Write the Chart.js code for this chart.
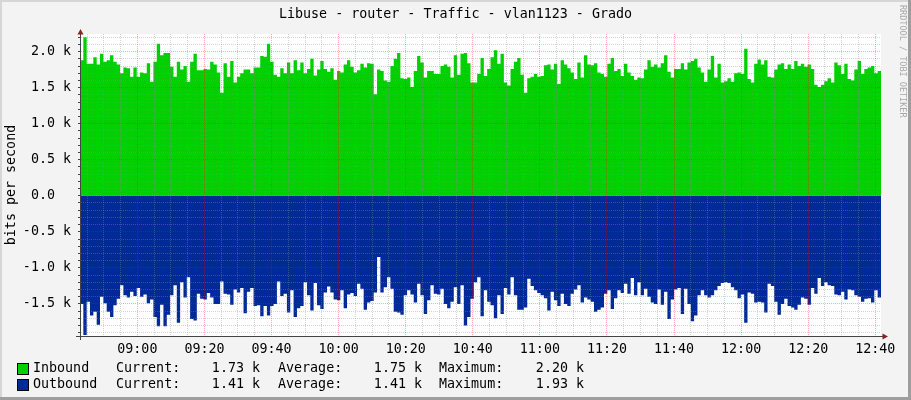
<!DOCTYPE html>
<html>
<head>
<meta charset="utf-8">
<script src="https://cdn.jsdelivr.net/npm/chart.js@4.4.1/dist/chart.umd.min.js"></script>
<style>
  html, body { margin: 0; padding: 0; background: #f3f3f3; }
  canvas { display: block; }
</style>
</head>
<body>
<canvas id="traffic" width="911" height="400"></canvas>
<script>
// Graph data (k bits/s, one sample per ~minute)
const TITLE = "Libuse - router - Traffic - vlan1123 - Grado";
const START_TIME = "08:42:54";
const END_TIME = "12:41:42";

const inbound = [
  1.88, 2.20, 1.83, 1.83, 1.92, 1.82, 1.97, 1.86, 1.88, 1.95, 1.86, 1.82, 1.70, 1.78, 1.77, 1.65, 1.78, 1.65, 1.71, 1.70,
  1.84, 1.58, 1.86, 2.11, 1.95, 1.98, 1.98, 1.79, 1.65, 1.86, 1.75, 1.80, 1.58, 1.86, 1.97, 1.74, 1.74, 1.76, 1.75, 1.86,
  1.82, 1.71, 1.43, 1.84, 1.65, 1.87, 1.57, 1.65, 1.70, 1.75, 1.75, 1.70, 1.78, 1.78, 1.94, 1.93, 2.11, 1.86, 1.68, 1.65,
  1.77, 1.70, 1.85, 1.70, 1.88, 1.74, 1.85, 1.70, 1.76, 1.90, 1.67, 1.75, 1.87, 1.76, 1.72, 1.77, 1.61, 1.73, 1.71, 1.82,
  1.88, 1.79, 1.71, 1.74, 1.83, 1.78, 1.84, 1.83, 1.41, 1.75, 1.73, 1.60, 1.58, 1.80, 1.90, 1.98, 1.63, 1.62, 1.64, 1.51,
  1.73, 1.94, 1.85, 1.64, 1.73, 1.73, 1.69, 1.69, 1.80, 1.82, 1.79, 1.64, 1.95, 1.68, 1.97, 1.98, 1.84, 1.57, 1.57, 1.69,
  1.91, 1.66, 1.76, 1.92, 2.02, 1.83, 1.97, 1.57, 1.53, 1.76, 1.86, 1.91, 1.68, 1.43, 1.63, 1.65, 1.69, 1.65, 1.66, 1.81,
  1.82, 1.75, 1.83, 1.55, 1.88, 1.82, 1.77, 1.71, 1.62, 1.85, 1.64, 1.95, 1.82, 1.81, 1.84, 1.71, 1.69, 1.65, 1.83, 1.91,
  1.73, 1.76, 1.66, 1.83, 1.71, 1.66, 1.61, 1.64, 1.63, 1.75, 1.88, 1.79, 1.82, 1.78, 1.84, 1.95, 1.72, 1.64, 1.76, 1.76,
  1.84, 1.75, 1.85, 1.87, 1.90, 1.78, 1.71, 1.58, 1.75, 1.94, 1.64, 1.83, 1.57, 1.59, 1.63, 1.58, 1.70, 1.71, 1.69, 2.04,
  1.62, 1.57, 1.83, 1.89, 1.82, 1.88, 1.65, 1.64, 1.75, 1.82, 1.84, 1.76, 1.82, 1.76, 1.87, 1.80, 1.83, 1.79, 1.82, 1.76,
  1.54, 1.51, 1.54, 1.59, 1.63, 1.57, 1.85, 1.81, 1.69, 1.83, 1.62, 1.60, 1.75, 1.87, 1.69, 1.76, 1.78, 1.80, 1.70, 1.73,
];

// outbound is drawn mirrored below zero
const outbound = [
  1.50, 1.93, 1.47, 1.66, 1.61, 1.79, 1.40, 1.49, 1.61, 1.68, 1.52, 1.43, 1.24, 1.38, 1.41, 1.33, 1.39, 1.28, 1.40, 1.37,
  1.49, 1.44, 1.68, 1.81, 1.51, 1.81, 1.65, 1.38, 1.24, 1.76, 1.20, 1.41, 1.13, 1.71, 1.73, 1.36, 1.43, 1.44, 1.35, 1.41,
  1.50, 1.50, 1.19, 1.36, 1.37, 1.51, 1.30, 1.34, 1.28, 1.63, 1.33, 1.28, 1.53, 1.52, 1.67, 1.53, 1.66, 1.53, 1.50, 1.19,
  1.39, 1.36, 1.62, 1.31, 1.68, 1.56, 1.53, 1.20, 1.38, 1.59, 1.21, 1.52, 1.57, 1.34, 1.26, 1.34, 1.44, 1.45, 1.31, 1.56,
  1.37, 1.35, 1.39, 1.22, 1.29, 1.58, 1.48, 1.46, 1.34, 0.85, 1.34, 1.27, 1.13, 1.29, 1.61, 1.62, 1.65, 1.38, 1.31, 1.37,
  1.48, 1.22, 1.38, 1.64, 1.45, 1.24, 1.36, 1.37, 1.29, 1.50, 1.56, 1.47, 1.27, 1.50, 1.24, 1.80, 1.68, 1.43, 1.20, 1.13,
  1.67, 1.31, 1.47, 1.52, 1.70, 1.38, 1.64, 1.28, 1.37, 1.13, 1.38, 1.58, 1.58, 1.55, 1.15, 1.25, 1.31, 1.35, 1.38, 1.42,
  1.59, 1.33, 1.45, 1.53, 1.36, 1.50, 1.53, 1.36, 1.30, 1.24, 1.48, 1.41, 1.44, 1.47, 1.61, 1.58, 1.55, 1.36, 1.31, 1.57,
  1.42, 1.31, 1.35, 1.22, 1.36, 1.14, 1.38, 1.20, 1.38, 1.29, 1.40, 1.48, 1.50, 1.30, 1.51, 1.33, 1.71, 1.44, 1.30, 1.28,
  1.64, 1.29, 1.50, 1.74, 1.66, 1.38, 1.31, 1.38, 1.41, 1.38, 1.31, 1.25, 1.21, 1.20, 1.21, 1.27, 1.31, 1.42, 1.37, 1.76,
  1.34, 1.36, 1.48, 1.47, 1.48, 1.62, 1.22, 1.25, 1.47, 1.65, 1.50, 1.43, 1.53, 1.55, 1.58, 1.51, 1.41, 1.43, 1.51, 1.28,
  1.36, 1.14, 1.25, 1.20, 1.24, 1.25, 1.37, 1.38, 1.33, 1.44, 1.30, 1.31, 1.38, 1.40, 1.47, 1.43, 1.42, 1.48, 1.31, 1.41,
];

const seriesNames = ["Inbound", "Outbound"];
const seriesColors = ["#00CF00", "#002A97"];
const statCurrent = [1.73, 1.41];
const statAverage = [1.75, 1.41];
const statMaximum = [2.20, 1.93];

const Y_MIN = -1.945;
const Y_MAX = 2.244;
const Y_MINOR = 0.1;
const Y_MAJOR = 0.5;
const X_MINOR_MIN = 5;
const X_MAJOR_MIN = 20;

const FONT = "'DejaVu Sans Mono', monospace";
const FONT_SIZE = 13.33;

const toMinutes = (s) => {
  const [h, m, sec] = s.split(":").map(Number);
  return h * 60 + m + (sec || 0) / 60;
};
const t0 = toMinutes(START_TIME);
const t1 = toMinutes(END_TIME);
const sampleLen = (t1 - t0) / inbound.length;

// rrd samples as steps; last point closes the final step
const stepPoints = (values, sign) => {
  const pts = values.map((v, i) => ({ x: t0 + i * sampleLen, y: sign * v }));
  pts.push({ x: t1, y: sign * values[values.length - 1] });
  return pts;
};

const isMultiple = (v, m) => Math.abs(v / m - Math.round(v / m)) < 1e-6;
const hhmm = (min) => {
  const m = Math.round(min);
  return String(Math.floor(m / 60)).padStart(2, "0") + ":" + String(m % 60).padStart(2, "0");
};

const MINOR_GRID = "rgba(143, 143, 143, 0.38)";
const MAJOR_GRID = "rgba(255, 0, 0, 0.32)";
const AXIS_COLOR = "#444444";
const ARROW_COLOR = "#8b2020";

const rrdFrame = {
  id: "rrdFrame",
  beforeDraw(chart) {
    const { ctx, chartArea: a, width, height } = chart;
    ctx.save();
    ctx.fillStyle = "#f3f3f3";
    ctx.fillRect(0, 0, width, height);
    ctx.fillStyle = "#d6d6d6";
    ctx.fillRect(0, 0, width, 2);
    ctx.fillRect(0, 0, 2, height);
    ctx.fillStyle = "#9e9e9e";
    ctx.fillRect(width - 3, 0, 3, height);
    ctx.fillRect(0, height - 3, width, 3);
    ctx.fillStyle = "#ffffff";
    ctx.fillRect(a.left, a.top, a.right - a.left, a.bottom - a.top);
    ctx.restore();
  },
  afterDraw(chart) {
    const { ctx, chartArea: a, width } = chart;
    const ax = Math.round(a.left - 0.5) + 0.5;
    const ay = Math.round(a.bottom - 0.5) + 0.5;
    ctx.save();

    // title, centred on the whole image like rrdtool does
    ctx.font = `${FONT_SIZE}px ${FONT}`;
    ctx.fillStyle = "#000000";
    ctx.textAlign = "center";
    ctx.textBaseline = "middle";
    ctx.fillText(TITLE, width / 2, 14.5);

    // axis stubs + arrows
    ctx.strokeStyle = AXIS_COLOR;
    ctx.lineWidth = 1;
    ctx.beginPath();
    ctx.moveTo(ax, a.bottom);
    ctx.lineTo(ax, a.bottom + 4);
    ctx.moveTo(a.left - 4, ay);
    ctx.lineTo(a.left, ay);
    ctx.moveTo(a.right, ay);
    ctx.lineTo(a.right + 2, ay);
    ctx.stroke();
    ctx.fillStyle = ARROW_COLOR;
    ctx.beginPath();
    ctx.moveTo(ax, a.top - 5);
    ctx.lineTo(ax - 3, a.top + 0.5);
    ctx.lineTo(ax + 3, a.top + 0.5);
    ctx.closePath();
    ctx.fill();
    ctx.beginPath();
    ctx.moveTo(a.right + 7, ay);
    ctx.lineTo(a.right + 1.5, ay - 3);
    ctx.lineTo(a.right + 1.5, ay + 3);
    ctx.closePath();
    ctx.fill();

    // legend rows
    ctx.font = `${FONT_SIZE}px ${FONT}`;
    ctx.textBaseline = "middle";
    const rowY = [369, 385];
    const fmt = (v) => v.toFixed(2) + " k";
    chart.data.datasets.forEach((ds, i) => {
      const y = rowY[i];
      ctx.fillStyle = ds.backgroundColor;
      ctx.fillRect(18, y - 5, 10, 10);
      ctx.strokeStyle = "#000000";
      ctx.strokeRect(17.5, y - 5.5, 11, 11);
      ctx.fillStyle = "#000000";
      ctx.textAlign = "left";
      ctx.fillText(seriesNames[i], 33, y);
      ctx.fillText("Current:", 116, y);
      ctx.fillText("Average:", 278, y);
      ctx.fillText("Maximum:", 439, y);
      ctx.textAlign = "right";
      ctx.fillText(fmt(statCurrent[i]), 260, y);
      ctx.fillText(fmt(statAverage[i]), 422, y);
      ctx.fillText(fmt(statMaximum[i]), 584, y);
    });

    // vertical watermark
    ctx.translate(902.5, 5);
    ctx.rotate(Math.PI / 2);
    ctx.font = `8.5px ${FONT}`;
    ctx.fillStyle = "#a8a8a8";
    ctx.textAlign = "left";
    ctx.fillText("RRDTOOL / TOBI OETIKER", 0, 0);
    ctx.restore();
  },
};

Chart.defaults.font.family = FONT;
Chart.defaults.font.size = FONT_SIZE;
Chart.defaults.color = "#000000";

new Chart(document.getElementById("traffic"), {
  type: "line",
  data: {
    datasets: [
      {
        label: seriesNames[0],
        data: stepPoints(inbound, 1),
        backgroundColor: seriesColors[0],
      },
      {
        label: seriesNames[1],
        data: stepPoints(outbound, -1),
        backgroundColor: seriesColors[1],
      },
    ].map((ds) => ({
      ...ds,
      stepped: true,
      fill: "origin",
      borderWidth: 0,
      borderColor: "rgba(0,0,0,0)",
      pointRadius: 0,
      pointHoverRadius: 0,
    })),
  },
  options: {
    responsive: false,
    animation: false,
    devicePixelRatio: 1,
    events: [],
    layout: { padding: { left: 0, right: 30, top: 34, bottom: 0 } },
    plugins: {
      legend: { display: false },
      tooltip: { enabled: false },
      title: { display: false },
    },
    scales: {
      x: {
        type: "linear",
        min: t0,
        max: t1,
        afterBuildTicks: (scale) => {
          const ticks = [];
          for (let m = Math.ceil(t0 / X_MINOR_MIN) * X_MINOR_MIN; m <= t1; m += X_MINOR_MIN) {
            ticks.push({ value: m });
          }
          scale.ticks = ticks;
        },
        afterFit: (scale) => { scale.height = 64; },
        ticks: {
          autoSkip: false,
          maxRotation: 0,
          padding: 6,
          callback: (v) => (isMultiple(v, X_MAJOR_MIN) ? hhmm(v) : ""),
        },
        grid: {
          z: 1,
          drawTicks: false,
          lineWidth: 1,
          color: (ctx) => (ctx.tick && isMultiple(ctx.tick.value, X_MAJOR_MIN) ? MAJOR_GRID : MINOR_GRID),
        },
        border: { display: true, color: AXIS_COLOR, width: 1, z: 2, dash: [1, 1] },
      },
      y: {
        type: "linear",
        min: Y_MIN,
        max: Y_MAX,
        afterBuildTicks: (scale) => {
          const ticks = [];
          for (let k = Math.ceil(Y_MIN / Y_MINOR); k <= Math.floor(Y_MAX / Y_MINOR); k++) {
            ticks.push({ value: Math.round(k * Y_MINOR * 10) / 10 });
          }
          scale.ticks = ticks;
        },
        afterFit: (scale) => { scale.width = 80; },
        title: {
          display: true,
          text: "bits per second",
          color: "#000000",
          font: { family: FONT, size: FONT_SIZE },
          padding: { top: 4, bottom: 0 },
        },
        ticks: {
          autoSkip: false,
          padding: 7,
          callback: (v) => {
            if (!isMultiple(v, Y_MAJOR)) return "";
            if (Math.abs(v) < 1e-9) return "0.0  ";
            return v.toFixed(1) + " k";
          },
        },
        grid: {
          z: 1,
          drawTicks: true,
          tickLength: 2,
          tickColor: AXIS_COLOR,
          lineWidth: 1,
          color: (ctx) => (ctx.tick && isMultiple(ctx.tick.value, Y_MAJOR) ? MAJOR_GRID : MINOR_GRID),
        },
        border: { display: true, color: AXIS_COLOR, width: 1, z: 2, dash: [1, 1] },
      },
    },
  },
  plugins: [rrdFrame],
});
</script>
</body>
</html>
